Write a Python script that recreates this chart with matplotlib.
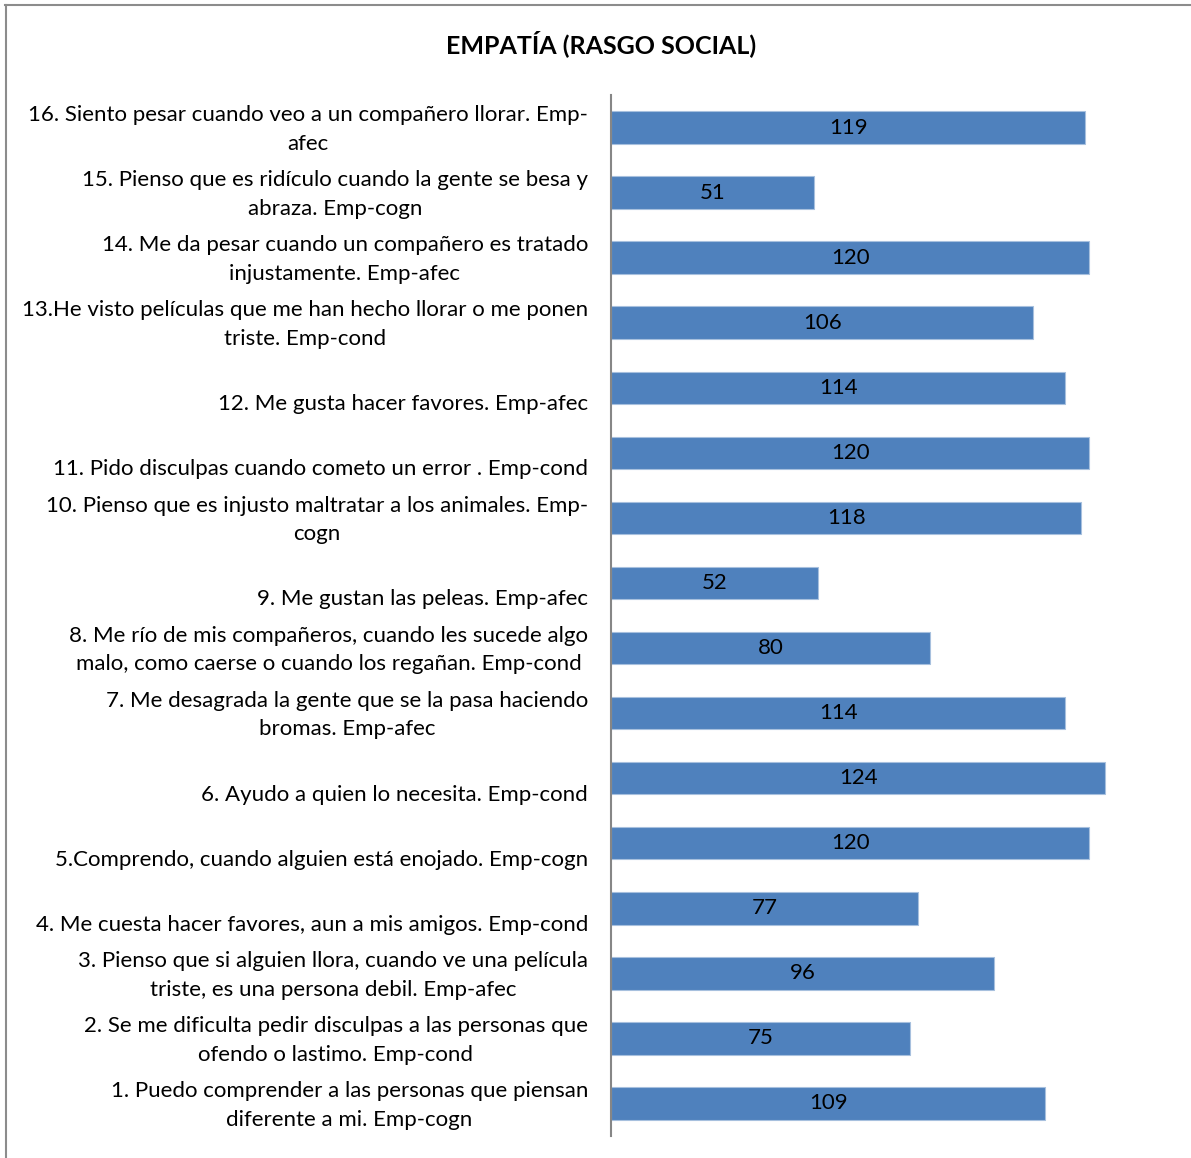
import matplotlib
matplotlib.use('Agg')
import matplotlib.pyplot as plt
import matplotlib.transforms as mtransforms
from matplotlib.lines import Line2D

plt.rcParams['font.family'] = ['Lato', 'DejaVu Sans']

# items from 1 (bottom) to 16 (top); single-line labels get an empty first line
labels = [
    '1. Puedo comprender a las personas que piensan\ndiferente a mi. Emp-cogn',
    '2. Se me dificulta pedir disculpas a las personas que\nofendo o lastimo. Emp-cond',
    '3. Pienso que si alguien llora, cuando ve una película\ntriste, es una persona debil. Emp-afec',
    '\n4. Me cuesta hacer favores, aun a mis amigos. Emp-cond',
    '\n5.Comprendo, cuando alguien está enojado. Emp-cogn',
    '\n6. Ayudo a quien lo necesita. Emp-cond',
    '7. Me desagrada la gente que se la pasa haciendo\nbromas. Emp-afec',
    '8. Me río de mis compañeros, cuando les sucede algo\nmalo, como caerse o cuando los regañan. Emp-cond',
    '\n9. Me gustan las peleas. Emp-afec',
    '10. Pienso que es injusto maltratar a los animales. Emp-\ncogn',
    '\n11. Pido disculpas cuando cometo un error . Emp-cond',
    '\n12. Me gusta hacer favores. Emp-afec',
    '13.He visto películas que me han hecho llorar o me ponen\ntriste. Emp-cond',
    '14. Me da pesar cuando un compañero es tratado\ninjustamente. Emp-afec',
    '15. Pienso que es ridículo cuando la gente se besa y\nabraza. Emp-cogn',
    '16. Siento pesar cuando veo a un compañero llorar. Emp-\nafec',
]
values = [109, 75, 96, 77, 120, 124, 114, 80, 52, 118, 120, 114, 106, 120, 51, 119]

W, H = 1191, 1158
fig = plt.figure(figsize=(W / 100, H / 100), dpi=100)
ax = fig.add_axes([611 / W, 1 - 1136 / H, (1169 - 611) / W, (1136 - 95) / H])

pos = list(range(len(values)))
ax.barh(pos, values, height=0.5, color='#4F81BD', edgecolor='#A7C0DE', linewidth=0.8)
for p, v in zip(pos, values):
    ax.text(v / 2, p, str(v), ha='center', va='center', fontsize=16, color='black')

# category labels, right aligned left of the axis, lines centred
shift = mtransforms.ScaledTranslation(-23 / 100, -2 / 100, fig.dpi_scale_trans)
for p, lab in zip(pos, labels):
    ax.text(0, p, lab, transform=ax.get_yaxis_transform() + shift, fontsize=16,
            ha='right', va='center', multialignment='center', linespacing=1.55)

ax.set_xlim(0, 140)
ax.set_ylim(-0.5, len(values) - 0.5)
ax.set_yticks([])
ax.set_xticks([])
for s in ['top', 'right', 'bottom']:
    ax.spines[s].set_visible(False)
ax.spines['left'].set_color('#868686')
ax.spines['left'].set_linewidth(1.5)

fig.text(601 / W, 1 - 44 / H, 'EMPATÍA (RASGO SOCIAL)', ha='center', va='center',
         fontsize=18, fontweight='bold')

# outer chart border (top and left visible)
fig.add_artist(Line2D([5 / W, 1.0], [1 - 5 / H, 1 - 5 / H], color='#8C8C8C', linewidth=1.5))
fig.add_artist(Line2D([6 / W, 6 / W], [1 - 5 / H, 1 - 1157 / H], color='#8C8C8C', linewidth=1.5))

fig.savefig('out.png', dpi=100, facecolor='white')
